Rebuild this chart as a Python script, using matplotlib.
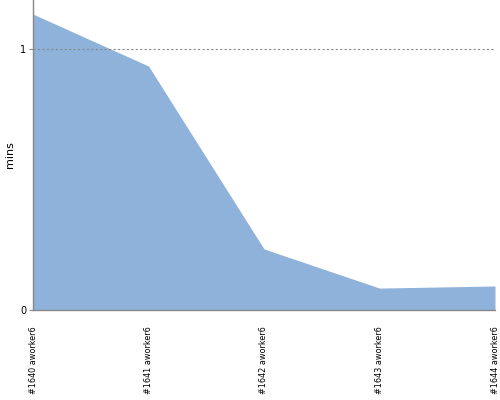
import matplotlib
matplotlib.use('Agg')
import matplotlib.pyplot as plt

builds = ['#1640 aworker6', '#1641 aworker6', '#1642 aworker6', '#1643 aworker6', '#1644 aworker6']
mins = [1.134, 0.935, 0.234, 0.084, 0.092]

fig = plt.figure(figsize=(5, 4), dpi=100)
ax = fig.add_axes([0.066, 0.225, 0.924, 0.775])
x = list(range(len(builds)))
ax.fill_between(x, 0, mins, color='#8fb2da', linewidth=0)
ax.axhline(1, color='#888888', linestyle=(0, (2, 2)), linewidth=0.8)

ax.set_xlim(0, len(builds) - 1)
ax.set_ylim(0, 1.188)
ax.set_yticks([0, 1])
ax.set_yticklabels(['0', '1'], fontsize=7)
ax.set_xticks(x)
ax.set_xticklabels(builds, rotation=90, fontsize=6.5, fontstretch='condensed')
ax.tick_params(axis='x', length=0, pad=12)
ax.tick_params(axis='y', length=3, color='#888888', pad=2)
ax.set_ylabel('mins', fontsize=8)
ax.yaxis.set_label_coords(-0.04, 0.5)

for s in ['top', 'right']:
    ax.spines[s].set_visible(False)
for s in ['left', 'bottom']:
    ax.spines[s].set_color('#888888')
    ax.spines[s].set_linewidth(1)

plt.savefig('out.png', dpi=100)
